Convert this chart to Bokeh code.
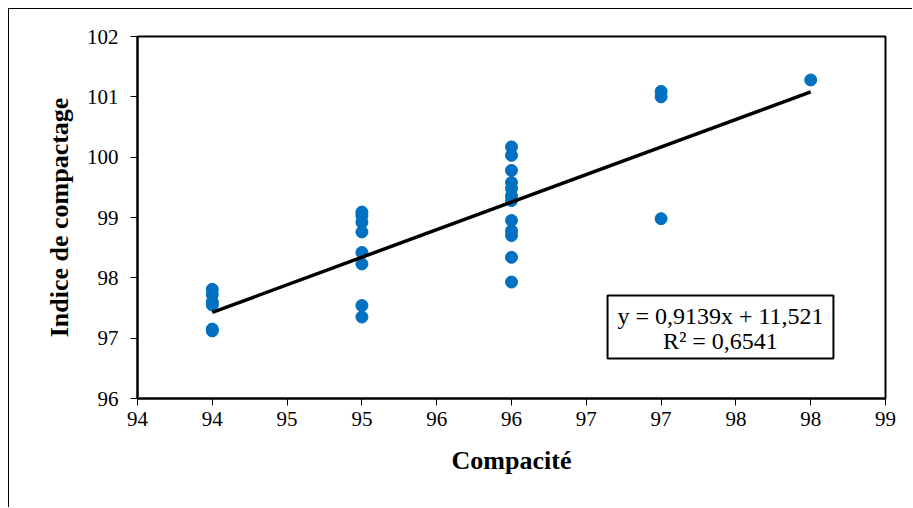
from bokeh.plotting import figure
from bokeh.models import (FixedTicker, Label, BoxAnnotation, Range1d,
                          ColumnDataSource)
from bokeh.embed import file_html
from bokeh.resources import INLINE

# Compacité (x) and Indice de compactage (y) measurements
compacite = [94, 94, 94, 94, 94, 94,
             95, 95, 95, 95, 95, 95, 95, 95,
             96, 96, 96, 96, 96, 96, 96, 96, 96, 96, 96, 96,
             97, 97, 97,
             98]
indice = [97.81, 97.72, 97.60, 97.55, 97.15, 97.12,
          99.09, 99.03, 98.92, 98.76, 98.42, 98.23, 97.54, 97.35,
          100.17, 100.03, 99.78, 99.58, 99.48, 99.36, 99.28, 98.95, 98.78, 98.70, 98.34, 97.93,
          101.09, 101.00, 98.98,
          101.28]

# Linear trend line
slope = 0.9139
intercept = 11.521
r_squared = 0.6541
trend_x = [min(compacite), max(compacite)]
trend_y = [slope * x + intercept for x in trend_x]

# Axis ticks and labels
x_ticks = [93.5, 94.0, 94.5, 95.0, 95.5, 96.0, 96.5, 97.0, 97.5, 98.0, 98.5]
x_tick_labels = ["94", "94", "95", "95", "96", "96", "97", "97", "98", "98", "99"]
y_ticks = [96, 97, 98, 99, 100, 101, 102]

SERIF = "Liberation Serif"

p = figure(width=904, height=499, output_backend="svg", toolbar_location=None,
           x_range=Range1d(93.5, 98.5), y_range=Range1d(96, 102),
           min_border_left=128, min_border_right=28,
           min_border_top=27, min_border_bottom=110)

# outer chart border: top and left edges only
p.styles = {"margin-left": "8px", "margin-top": "8px",
            "border-left": "1px solid black", "border-top": "1px solid black"}

p.background_fill_color = "white"
p.border_fill_color = "white"
p.outline_line_color = "black"
p.outline_line_width = 2
p.xgrid.visible = False
p.ygrid.visible = False

for ax in (p.xaxis, p.yaxis):
    ax.axis_line_color = "black"
    ax.axis_line_width = 2
    ax.major_tick_line_color = "black"
    ax.major_tick_line_width = 1
    ax.major_tick_in = 0
    ax.major_tick_out = 7
    ax.minor_tick_line_color = None
    ax.major_label_text_font = SERIF
    ax.major_label_text_font_size = "21px"
    ax.major_label_text_color = "black"
    ax.axis_label_text_font = SERIF
    ax.axis_label_text_font_style = "bold"
    ax.axis_label_text_font_size = "26px"
    ax.axis_label_text_color = "black"

p.xaxis.ticker = FixedTicker(ticks=x_ticks)
p.xaxis.major_label_overrides = {t: lab for t, lab in zip(x_ticks, x_tick_labels)}
p.xaxis.axis_label = "Compacité"
p.xaxis.major_label_standoff = 6
p.xaxis.axis_label_standoff = 17

p.yaxis.ticker = FixedTicker(ticks=y_ticks)
p.yaxis.axis_label = "Indice de compactage"
p.yaxis.major_label_standoff = 12
p.yaxis.axis_label_standoff = 10

src = ColumnDataSource(dict(x=compacite, y=indice))
p.scatter("x", "y", source=src, marker="circle", size=12,
          fill_color="#0070C0", line_color="#0070C0")

p.line(trend_x, trend_y, line_color="black", line_width=3.5)

# Equation box
p.add_layout(BoxAnnotation(left=96.642, right=98.152, bottom=96.663, top=97.707,
                           fill_color="white", fill_alpha=1.0,
                           line_color="black", line_alpha=1.0, line_width=2))
eq_text = f"y = {slope:.4f}x + {intercept:.3f}".replace(".", ",")
r2_text = f"R² = {r_squared:.4f}".replace(".", ",")
for txt, yy in ((eq_text, 97.375), (r2_text, 96.945)):
    p.add_layout(Label(x=97.397, y=yy, text=txt, text_align="center",
                       text_baseline="middle", text_font=SERIF,
                       text_font_size="24px", text_color="black"))

open("out.html", "w").write(file_html(p, INLINE))
